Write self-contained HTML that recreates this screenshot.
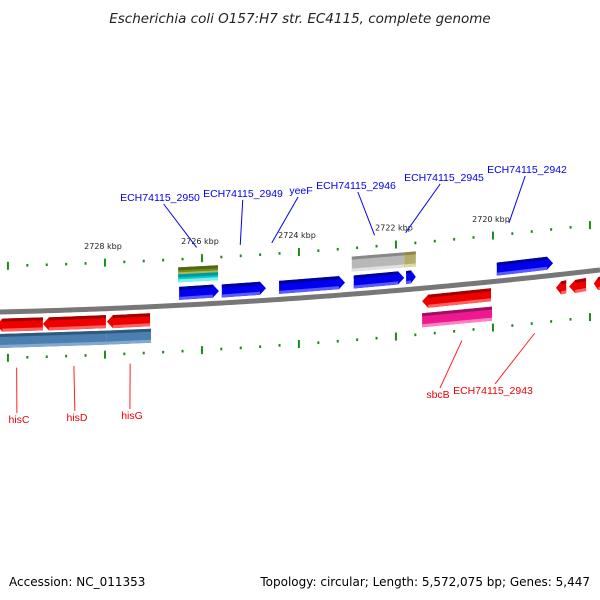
<!DOCTYPE html>
<html><head><meta charset="utf-8"><style>
body{margin:0;background:#fff;}
svg{display:block;font-family:"DejaVu Sans","Liberation Sans",sans-serif;}
</style></head><body>
<svg id="map" width="600" height="600" viewBox="0 0 600 600">
<text x="300" y="23" text-anchor="middle" font-size="13.5" font-style="italic" fill="#222">Escherichia coli O157:H7 str. EC4115, complete genome</text>
<text x="9" y="586" font-size="12" fill="#000">Accession: NC_011353</text>
<text x="590" y="586" font-size="12" fill="#000" text-anchor="end">Topology: circular; Length: 5,572,075 bp; Genes: 5,447</text>
<g id="layer"></g>
</svg>
<script>
// data (kbp coordinates)
const tickStartKbp = 2729.96;
const tickEndKbp = 2717.6;
const tickLabels = [2728, 2726, 2724, 2722, 2720];
const fwdGeneStarts = [2726.43, 2725.55, 2724.37, 2722.83, 2721.75, 2719.88];
const fwdGeneEnds   = [2725.61, 2724.64, 2723.01, 2721.79, 2721.55, 2718.72];
const topRowStarts = [2726.45, 2722.87, 2721.79];
const topRowEnds   = [2725.63, 2721.79, 2721.55];
const topRowColors = ['olive', 'gray', 'khaki'];
const revGeneStarts = [2730.2, 2729.24, 2727.92, 2721.42, 2718.66, 2718.39, 2717.88];
const revGeneEnds   = [2729.24, 2727.94, 2727.03, 2720.0, 2718.45, 2718.04, 2717.7];
const revGeneColors = ['red','red','red','red','red','red','red'];
const pinkStarts = [2721.42]; const pinkEnds = [2719.98];
const steelStarts = [2730.2, 2727.92]; const steelEnds = [2727.92, 2727.01];
const blueLabels = ['ECH74115_2950','ECH74115_2949','yeeF','ECH74115_2946','ECH74115_2945','ECH74115_2942'];
const blueLabelKbp = [2726.07, 2725.17, 2724.52, 2722.4, 2721.76, 2719.63];
const redLabels = ['hisC','hisD','hisG','sbcB','ECH74115_2943'];
const redLabelKbp = [2729.78, 2728.6, 2727.44, 2720.6, 2719.1];

const NS='http://www.w3.org/2000/svg';
const L=document.getElementById('layer');
function X(k){return 103+(2728-k)*48.5;}
function Y(x){return 312-0.0233*x-0.000078*x*x;}
function mk(t,a,p){const e=document.createElementNS(NS,t);for(const k in a)e.setAttribute(k,a[k]);(p||L).appendChild(e);return e;}
const pal={blue:['#0000ee','#2020ff','#5a5aff','#00009a'],red:['#ee0000','#ff1010','#ff6060','#a00000'],
olive:['#6f8a1e','#8aa030','#a8b860','#55680f'],gray:['#b8b8b8','#c8c8c8','#e0e0e0','#888'],khaki:['#b4ad6a','#c8c080','#ddd8a8','#8f8848'],
pink:['#ee1890','#ff40a8','#ff80c0','#a01060'],steel:['#4a7fb0','#5a8fc0','#80a8d0','#2f5a80'],cyan:['#00cccc','#20dede','#80eeee','#009999']};
let d='';for(let x=0;x<=600;x+=5){d+=(x?'L':'M')+x+','+Y(x).toFixed(2);}
const bb=mk('path',{d:d,stroke:'#777','stroke-width':5,fill:'none'});


function gene(k1,k2,off,h,dir,col,name){
  let x1=X(k1),x2=X(k2);if(x2<x1){const t=x1;x1=x2;x2=t;}
  const c=pal[col];const a=Math.min(6,(x2-x1)/2);
  const y1=Y(x1)+off,y2=Y(x2)+off;
  let pts;
  if(dir>0) pts=[[x1,y1-h/2],[x2-a,y2-h/2],[x2,y2],[x2-a,y2+h/2],[x1,y1+h/2]];
  else if(dir<0) pts=[[x1+a,y1-h/2],[x2,y2-h/2],[x2,y2+h/2],[x1+a,y1+h/2],[x1,y1]];
  else pts=[[x1,y1-h/2],[x2,y2-h/2],[x2,y2+h/2],[x1,y1+h/2]];
  const g=mk('g',{});
  
  
  mk('polygon',{points:pts.map(p=>p.join(',')).join(' '),fill:c[0]},g);
  const l=x1+(dir<0?a:0),r=x2-(dir>0?a:0);
  mk('polygon',{points:[[l,y1-h/2],[r,y2-h/2],[r,y2-h/2+3],[l,y1-h/2+3]].map(p=>p.join(',')).join(' '),fill:c[3]},g);
  mk('polygon',{points:[[l,y1+h/2-3],[r,y2+h/2-3],[r,y2+h/2],[l,y1+h/2]].map(p=>p.join(',')).join(' '),fill:c[2]},g);
}
for(let i=0;i<fwdGeneStarts.length;i++) gene(fwdGeneStarts[i],fwdGeneEnds[i],-12,13,1,'blue','forward-gene-'+(i+1));
gene(topRowStarts[0],topRowEnds[0],-34,8,0,'olive','feature-olive');
gene(topRowStarts[0],topRowEnds[0],-27,8,0,'cyan','feature-cyan');
for(let i=1;i<topRowStarts.length;i++) gene(topRowStarts[i],topRowEnds[i],-30,15,0,topRowColors[i],'feature-'+topRowColors[i]);
for(let i=0;i<revGeneStarts.length;i++) gene(revGeneStarts[i],revGeneEnds[i],13,13,-1,revGeneColors[i],'reverse-gene-'+(i+1));
for(let i=0;i<pinkStarts.length;i++) gene(pinkStarts[i],pinkEnds[i],32,14,0,'pink','feature-pink');
for(let i=0;i<steelStarts.length;i++) gene(steelStarts[i],steelEnds[i],29,14,0,'steel','feature-steel-'+(i+1));
for(let k=tickStartKbp,i=0;k>=tickEndKbp;k-=0.4,i++){
  const x=X(k);const major=(i%5===0);
  [-46,46].forEach(off=>{
    const y=Y(x)+off;
    const t=mk('line',{x1:x,x2:x,y1:y-(major?4:1.3),y2:y+(major?4:1.3),stroke:'#1a8a1a','stroke-width':2});
    
    
  });
}
tickLabels.forEach(k=>{const x=X(k);const t=mk('text',{x:x,y:Y(x)-60,'font-size':8,'text-anchor':'middle',fill:'#222'});t.textContent=k+' kbp';

});
const bLab=[[160,201],[243,197],[301,194],[356,189],[444,181],[527,173]];
blueLabels.forEach((s,i)=>{const x=X(blueLabelKbp[i]);const tx=bLab[i][0],ty=bLab[i][1];
  mk('line',{x1:tx+(x-tx)*0.1,y1:ty+3,x2:x,y2:Y(x)-57,stroke:'#0000ee','stroke-width':1});
  const t=mk('text',{x:tx,y:ty,'font-size':10.5,'font-family':'Liberation Sans, sans-serif','text-anchor':'middle',fill:'#0000ee'});t.textContent=s;
  
  });
const rLab=[[19,423],[77,421],[132,419],[438,398],[493,394]];
redLabels.forEach((s,i)=>{const x=X(redLabelKbp[i]);const tx=rLab[i][0],ty=rLab[i][1];
  mk('line',{x1:x,y1:Y(x)+56,x2:tx+(i>2?2:-2)+(i<3?(x-tx)*0.05:0),y2:ty-10,stroke:'#ff2020','stroke-width':1});
  const t=mk('text',{x:tx,y:ty,'font-size':10.5,'font-family':'Liberation Sans, sans-serif','text-anchor':'middle',fill:'#ee0000'});t.textContent=s;
  
  });
</script>
</body></html>
